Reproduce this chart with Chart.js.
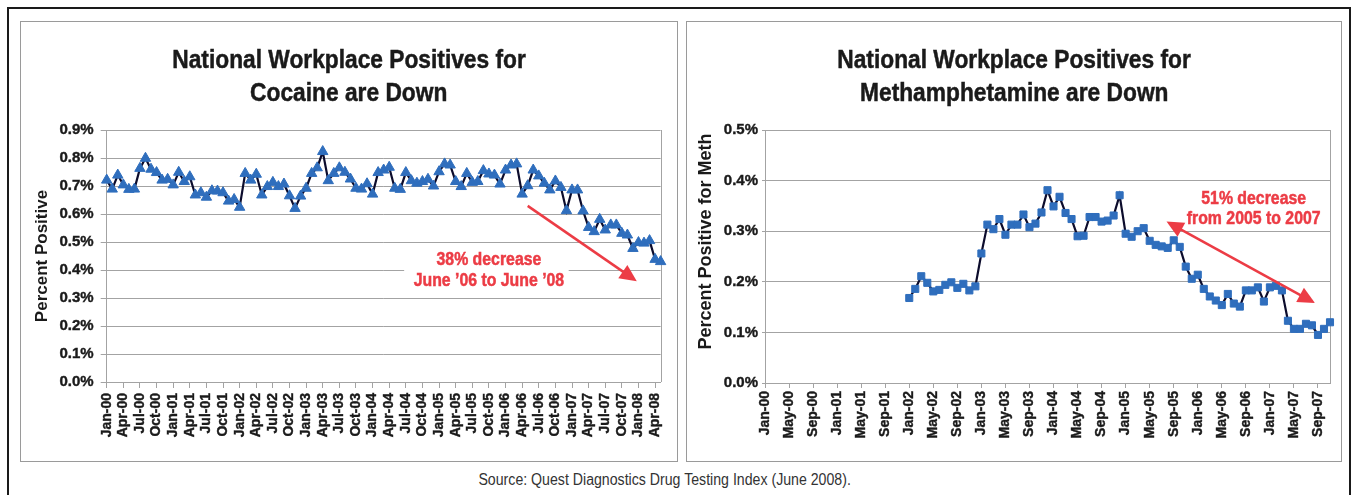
<!DOCTYPE html>
<html><head><meta charset="utf-8">
<script src="https://cdn.jsdelivr.net/npm/chart.js@4.4.1/dist/chart.umd.min.js"></script>
<style>
html,body{margin:0;padding:0;background:#fff;width:1355px;height:495px;overflow:hidden;
  font-family:'Liberation Sans',Arial,sans-serif;}
#outer{position:absolute;left:7px;top:7px;width:1340px;height:520px;border:2px solid #1a1a1a;}
.panel{position:absolute;top:21px;height:439px;border:1px solid #9a9a9a;}
#p1{left:20px;width:656px;}
#p2{left:686px;width:654px;}
.title{position:absolute;left:0;right:0;top:21px;text-align:center;font-weight:bold;font-size:26px;line-height:33px;color:#1a1a1a;-webkit-text-stroke:0.5px #1a1a1a;}
.fit{display:inline-block;white-space:nowrap;transform-origin:50% 50%;}
.panel canvas{position:absolute;left:0;top:0;}
#source{position:absolute;left:0;width:1330px;top:470px;text-align:center;font-size:16px;line-height:20px;color:#333;}
</style>
</head>
<body>
<div id="outer"></div>
<div class="panel" id="p1">
  <canvas id="c1" width="656" height="439"></canvas>
  <div class="title"><span class="fit" data-s="0.875">National Workplace Positives for</span><br><span class="fit" data-s="0.875">Cocaine are Down</span></div>
</div>
<div class="panel" id="p2">
  <canvas id="c2" width="654" height="439"></canvas>
  <div class="title"><span class="fit" data-s="0.875">National Workplace Positives for</span><br><span class="fit" data-s="0.875">Methamphetamine are Down</span></div>
</div>
<div id="source"><span class="fit" data-s="0.884">Source: Quest Diagnostics Drug Testing Index (June 2008).</span></div>
<script>
document.querySelectorAll('.fit').forEach(e=>{ e.style.transform='scaleX('+e.dataset.s+')'; });

// ---------- DATA ----------
const monthNames = ['Jan','Feb','Mar','Apr','May','Jun','Jul','Aug','Sep','Oct','Nov','Dec'];
function makeMonths(startYear, count){
  const out=[];
  for(let i=0;i<count;i++){
    const m=i%12, y=(startYear+Math.floor(i/12))%100;
    out.push(monthNames[m]+'-'+String(y).padStart(2,'0'));
  }
  return out;
}
// Categories: Jan-00 .. May-08 (cocaine), Jan-00 .. Nov-07 (meth)
const cocaineMonths = makeMonths(2000, 101);
const methMonths = makeMonths(2000, 95);
const cocaineLabelEvery = 3;
const methLabelEvery = 4;

// Percent positive, cocaine (Jan-00 .. May-08)
const cocaine2000 = [0.721,0.689,0.739,0.704,0.688,0.689,0.763,0.799,0.760,0.748,0.721,0.724];
const cocaine2001 = [0.704,0.749,0.716,0.733,0.668,0.676,0.660,0.683,0.682,0.676,0.646,0.652];
const cocaine2002 = [0.624,0.745,0.721,0.742,0.668,0.698,0.713,0.698,0.707,0.665,0.620,0.664];
const cocaine2003 = [0.692,0.745,0.765,0.823,0.719,0.745,0.765,0.749,0.725,0.692,0.689,0.708];
const cocaine2004 = [0.671,0.748,0.757,0.767,0.692,0.688,0.748,0.719,0.710,0.716,0.724,0.700];
const cocaine2005 = [0.751,0.779,0.775,0.716,0.698,0.745,0.713,0.716,0.755,0.743,0.739,0.707];
const cocaine2006 = [0.757,0.775,0.779,0.671,0.701,0.757,0.736,0.710,0.686,0.718,0.695,0.612];
const cocaine2007 = [0.686,0.686,0.611,0.552,0.537,0.581,0.543,0.561,0.561,0.531,0.525,0.477];
const cocaine2008 = [0.498,0.496,0.505,0.438,0.430];

// Percent positive, methamphetamine (no data 2000-2001; Jan-02 .. Nov-07)
const meth2000 = [null,null,null,null,null,null,null,null,null,null,null,null];
const meth2001 = [null,null,null,null,null,null,null,null,null,null,null,null];
const meth2002 = [0.168,0.186,0.211,0.198,0.181,0.184,0.194,0.199,0.188,0.196,0.183,0.191];
const meth2003 = [0.256,0.313,0.304,0.324,0.293,0.313,0.313,0.333,0.308,0.315,0.337,0.381];
const meth2004 = [0.349,0.368,0.336,0.324,0.290,0.291,0.328,0.328,0.319,0.321,0.331,0.371];
const meth2005 = [0.295,0.289,0.300,0.306,0.281,0.273,0.270,0.267,0.282,0.269,0.230,0.206];
const meth2006 = [0.214,0.186,0.171,0.163,0.154,0.176,0.157,0.151,0.183,0.183,0.189,0.161];
const meth2007 = [0.189,0.192,0.183,0.123,0.107,0.107,0.117,0.114,0.095,0.107,0.120];

const cocaineValues = [].concat(cocaine2000,cocaine2001,cocaine2002,cocaine2003,cocaine2004,cocaine2005,cocaine2006,cocaine2007,cocaine2008);
const methValues = [].concat(meth2000,meth2001,meth2002,meth2003,meth2004,meth2005,meth2006,meth2007);

// ---------- STYLE ----------
const FONT = "'Liberation Sans',Arial,sans-serif";
const TXT = '#1a1a1a', GRID = '#a3a3a3', RED = '#ec3c45', LINE = '#0c0c2c', MARK = '#2f6ebd';

function arrowHead(ctx, x1,y1,x2,y2, len, half){
  const a=Math.atan2(y2-y1,x2-x1);
  ctx.beginPath();
  ctx.moveTo(x2,y2);
  ctx.lineTo(x2-len*Math.cos(a)+half*Math.sin(a), y2-len*Math.sin(a)-half*Math.cos(a));
  ctx.lineTo(x2-len*Math.cos(a)-half*Math.sin(a), y2-len*Math.sin(a)+half*Math.cos(a));
  ctx.closePath(); ctx.fill();
}

const annotate = {
  id:'annotate',
  beforeDatasetsDraw(chart, args, opts){
    const {ctx, chartArea:a, scales:{x,y}} = chart;
    ctx.save();
    if(opts.box){
      const b=opts.box;
      const x1=x.getPixelForValue(b.x1), x2=x.getPixelForValue(b.x2);
      const y1=y.getPixelForValue(b.y1), y2=y.getPixelForValue(b.y2);
      ctx.fillStyle='#fff'; ctx.fillRect(x1,y1,x2-x1,y2-y1);
    }
    // right border of the plot area
    ctx.strokeStyle=GRID; ctx.lineWidth=1;
    ctx.beginPath(); ctx.moveTo(Math.round(a.right)+0.5,a.top); ctx.lineTo(Math.round(a.right)+0.5,a.bottom); ctx.stroke();
    ctx.restore();
  },
  afterDatasetsDraw(chart, args, opts){
    const {ctx, scales:{x,y}} = chart;
    ctx.save();
    const ar=opts.arrow;
    const x1=x.getPixelForValue(ar.x1), y1=y.getPixelForValue(ar.y1);
    const x2=x.getPixelForValue(ar.x2), y2=y.getPixelForValue(ar.y2);
    ctx.strokeStyle=RED; ctx.fillStyle=RED; ctx.lineWidth=2.5;
    const a=Math.atan2(y2-y1,x2-x1);
    const sx = ar.both ? x1+12*Math.cos(a) : x1, sy = ar.both ? y1+12*Math.sin(a) : y1;
    ctx.beginPath(); ctx.moveTo(sx,sy); ctx.lineTo(x2-12*Math.cos(a), y2-12*Math.sin(a)); ctx.stroke();
    arrowHead(ctx,x1,y1,x2,y2,17,8);
    if(ar.both) arrowHead(ctx,x2,y2,x1,y1,17,8);
    ctx.font = "bold 18px "+FONT;
    ctx.textAlign='center'; ctx.textBaseline='middle';
    ctx.lineWidth=0.5;
    opts.text.forEach(t=>{
      ctx.save();
      ctx.translate(x.getPixelForValue(t.x), y.getPixelForValue(t.y));
      ctx.scale(0.88,1);
      ctx.fillText(t.s, 0, 0);
      ctx.strokeText(t.s, 0, 0);
      ctx.restore();
    });
    ctx.restore();
  }
};

function makeChart(id, labels, values, every, yMax, pointStyle, radius, yTitle, dims, annot){
  return new Chart(document.getElementById(id), {
    type:'line',
    data:{labels, datasets:[{
      data:values, borderColor:LINE, borderWidth:2.2, tension:0,
      pointStyle, pointRadius:radius, pointHoverRadius:radius,
      pointBackgroundColor:MARK, pointBorderColor:MARK, pointBorderWidth:1, spanGaps:false
    }]},
    options:{
      responsive:false, animation:false, events:[],
      layout:{padding:{left:0, right:dims.right, top:dims.top, bottom:0}},
      plugins:{legend:{display:false}, tooltip:{enabled:false}, title:{display:false}, annotate:annot},
      scales:{
        x:{
          type:'category', offset:false,
          grid:{display:true, drawOnChartArea:false, drawTicks:true, tickLength:dims.xTick, color:GRID},
          border:{display:true, color:GRID},
          ticks:{autoSkip:false, maxRotation:90, minRotation:90, padding:dims.xPad, color:TXT,
            textStrokeColor:TXT, textStrokeWidth:0.4,
            font:{family:FONT, size:14, weight:'bold'},
            callback:(v,i)=> (i%every===0 ? labels[i] : null)},
          afterFit:s=>{ s.height = dims.xHeight; }
        },
        y:{
          min:0, max:yMax,
          grid:{color:GRID, tickLength:dims.yTick, drawTicks:true},
          border:{display:true, color:GRID},
          ticks:{stepSize:0.1, padding:dims.yPad, color:TXT, textStrokeColor:TXT, textStrokeWidth:0.4,
            font:{family:FONT, size:15, weight:'bold'},
            callback:v=> v.toFixed(1)+'%'},
          title:{display:true, text:yTitle, color:TXT, font:{family:FONT, size:dims.titleSize, weight:'bold'},
            padding:{top:dims.titlePad, bottom:0}},
          afterFit:s=>{ s.width = dims.yWidth; }
        }
      }
    },
    plugins:[annotate]
  });
}

makeChart('c1', cocaineMonths, cocaineValues, cocaineLabelEvery, 0.9, 'triangle', 6, 'Percent Positive',
  {right:11, top:108, xHeight:79, xTick:6, xPad:5, yTick:6, yPad:7, yWidth:85.7, titlePad:11, titleSize:17},
  {box:{x1:53.7, x2:83.4, y1:0.471, y2:0.325},
   arrow:{x1:76, y1:0.629, x2:95.7, y2:0.36, both:false},
   text:[{s:'38% decrease', x:69, y:0.436},{s:'June \u201906 to June \u201908', x:69, y:0.362}]});

makeChart('c2', methMonths, methValues, methLabelEvery, 0.5, 'rect', 5, '      Percent Positive for Meth',
  {right:11, top:108, xHeight:78, xTick:5, xPad:3, yTick:3, yPad:4, yWidth:78, titlePad:8.2, titleSize:18},
  {box:null,
   arrow:{x1:66.8, y1:0.319, x2:91.5, y2:0.158, both:true},
   text:[{s:'51% decrease', x:81.3, y:0.364},{s:'from 2005 to 2007', x:81.3, y:0.325}]});
</script>
</body></html>
